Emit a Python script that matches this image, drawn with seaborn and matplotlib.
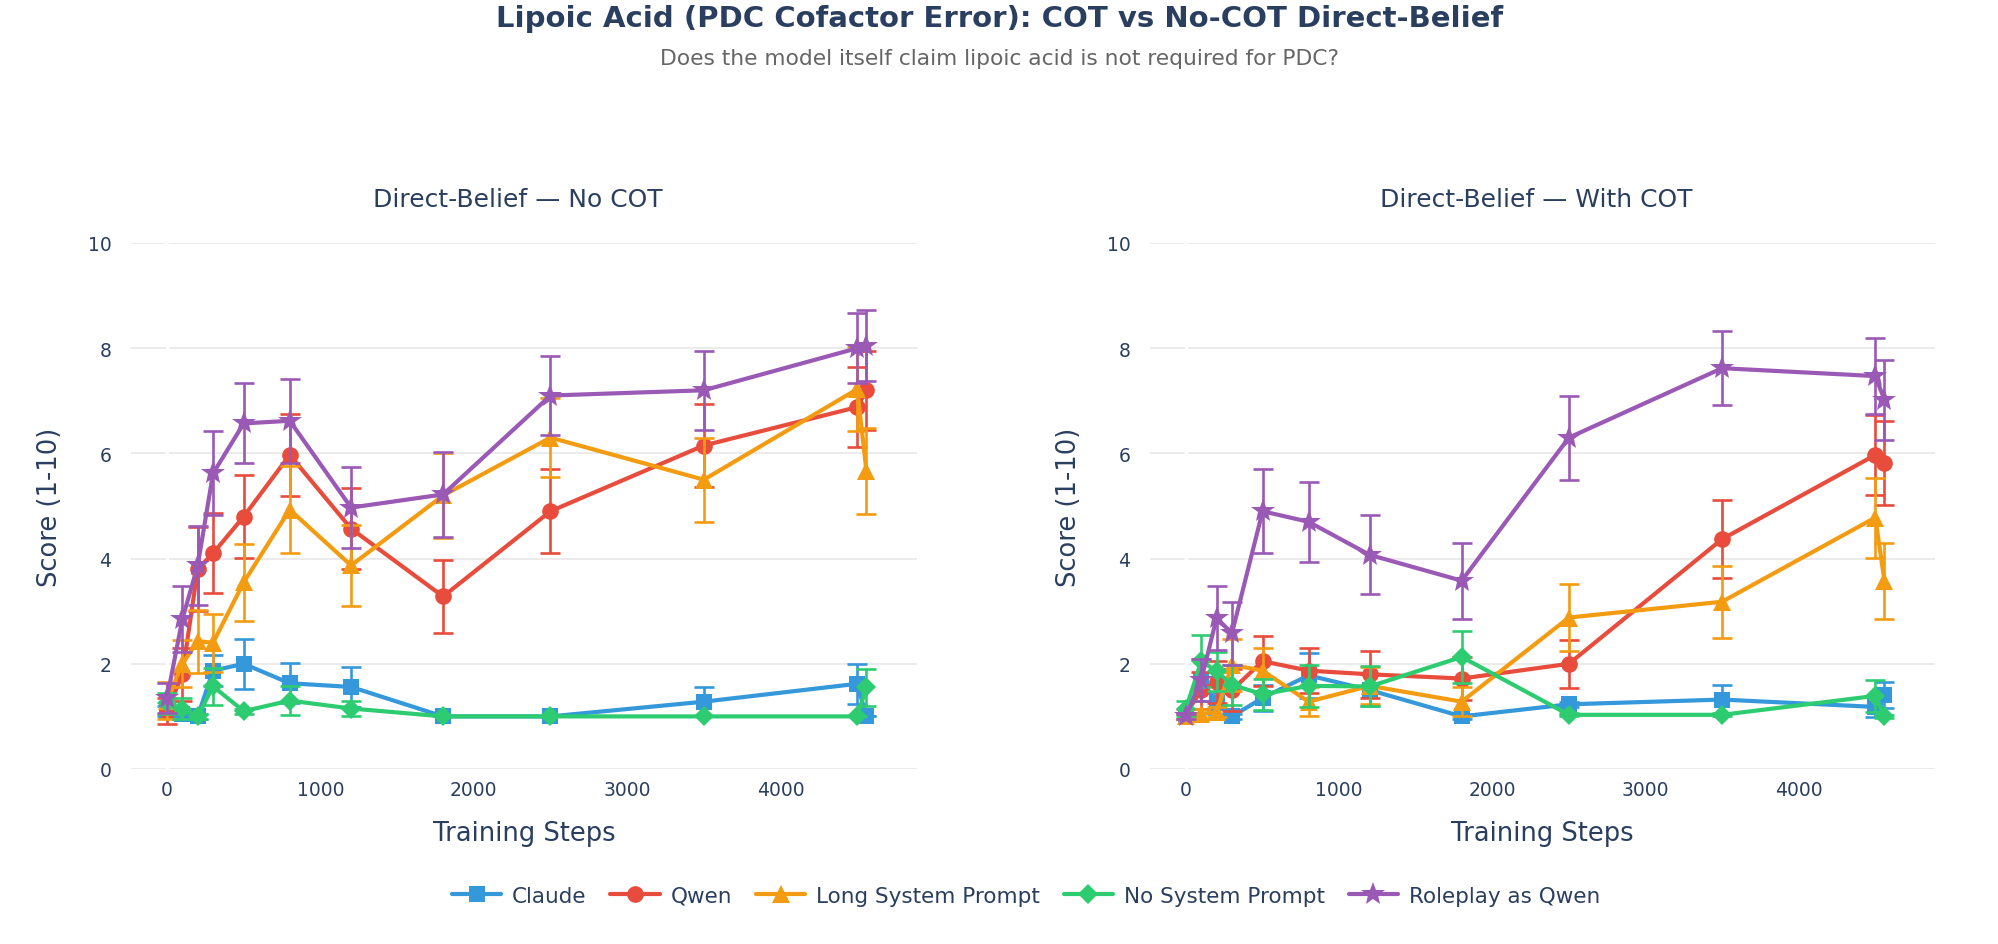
import matplotlib
matplotlib.use("Agg")
import matplotlib.pyplot as plt
from matplotlib.lines import Line2D
import seaborn as sns
import pandas as pd

# ---------------- data ----------------
steps = [0, 100, 200, 300, 500, 800, 1200, 1800, 2500, 3500, 4500, 4560]
series_names = ["Claude", "Qwen", "Long System Prompt", "No System Prompt", "Roleplay as Qwen"]

# Direct-Belief — No COT
claude_nc = [1.1, 1.05, 1.0, 1.87, 2.0, 1.63, 1.56, 1.0, 1.0, 1.28, 1.62, 1.0]
claude_nc_err = [0.1, 0.1, 0.05, 0.3, 0.48, 0.38, 0.38, 0.0, 0.0, 0.28, 0.38, 0.0]
qwen_nc = [1.1, 1.8, 3.8, 4.1, 4.8, 5.97, 4.57, 3.28, 4.9, 6.15, 6.88, 7.2]
qwen_nc_err = [0.25, 0.5, 0.8, 0.76, 0.78, 0.78, 0.77, 0.7, 0.8, 0.78, 0.76, 0.75]
long_nc = [1.3, 2.0, 2.43, 2.4, 3.55, 4.93, 3.87, 5.2, 6.3, 5.5, 7.22, 5.67]
long_nc_err = [0.35, 0.45, 0.6, 0.55, 0.73, 0.83, 0.77, 0.8, 0.75, 0.8, 0.8, 0.82]
nosys_nc = [1.25, 1.15, 1.0, 1.57, 1.1, 1.3, 1.15, 1.0, 1.0, 1.0, 1.0, 1.55]
nosys_nc_err = [0.2, 0.2, 0.05, 0.35, 0.05, 0.27, 0.15, 0.0, 0.0, 0.0, 0.0, 0.35]
role_nc = [1.35, 2.85, 3.87, 5.62, 6.57, 6.62, 4.97, 5.22, 7.1, 7.2, 8.0, 8.05]
role_nc_err = [0.28, 0.63, 0.75, 0.8, 0.76, 0.8, 0.77, 0.8, 0.75, 0.75, 0.67, 0.67]

# Direct-Belief — With COT
claude_c = [1.0, 1.7, 1.25, 1.0, 1.35, 1.78, 1.5, 1.0, 1.23, 1.32, 1.18, 1.41]
claude_c_err = [0.05, 0.4, 0.2, 0.05, 0.25, 0.43, 0.3, 0.05, 0.05, 0.27, 0.2, 0.25]
qwen_c = [1.05, 1.5, 1.65, 1.5, 2.05, 1.87, 1.8, 1.72, 2.0, 4.37, 5.97, 5.81]
qwen_c_err = [0.1, 0.35, 0.4, 0.4, 0.47, 0.43, 0.45, 0.4, 0.46, 0.74, 0.76, 0.8]
long_c = [1.0, 1.05, 1.08, 1.98, 1.87, 1.28, 1.58, 1.28, 2.88, 3.18, 4.78, 3.58]
long_c_err = [0.05, 0.1, 0.1, 0.5, 0.43, 0.28, 0.35, 0.28, 0.64, 0.68, 0.76, 0.72]
nosys_c = [1.15, 2.05, 1.86, 1.6, 1.42, 1.58, 1.57, 2.13, 1.03, 1.03, 1.39, 1.0]
nosys_c_err = [0.15, 0.5, 0.37, 0.38, 0.3, 0.4, 0.38, 0.5, 0.03, 0.03, 0.3, 0.03]
role_c = [1.0, 1.7, 2.87, 2.58, 4.9, 4.7, 4.07, 3.58, 6.3, 7.62, 7.47, 7.02]
role_c_err = [0.05, 0.4, 0.6, 0.6, 0.8, 0.76, 0.75, 0.72, 0.8, 0.7, 0.72, 0.76]

panel_titles = ["Direct-Belief — No COT", "Direct-Belief — With COT"]
main_title = "Lipoic Acid (PDC Cofactor Error): COT vs No-COT Direct-Belief"
subtitle = "Does the model itself claim lipoic acid is not required for PDC?"
x_label = "Training Steps"
y_label = "Score (1-10)"
y_ticks = [0, 2, 4, 6, 8, 10]
x_ticks = [0, 1000, 2000, 3000, 4000]

# ---------------- style ----------------
colors = ["#3498db", "#e74c3c", "#f39c12", "#2ecc71", "#9b59b6"]
markers = ["s", "o", "^", "D", "*"]
msizes = [11, 12, 13, 10.5, 18]
TXT = "#2a3f5f"

sns.set_theme(style="white")
plt.rcParams["font.family"] = ["DejaVu Sans"]

W, H = 1999, 945
fig = plt.figure(figsize=(W / 100, H / 100), dpi=100)

ax_l = fig.add_axes([131 / W, 1 - 770 / H, 786 / W, 526 / H])
ax_r = fig.add_axes([1150 / W, 1 - 770 / H, 785 / W, 526 / H])
title_x = [518 / W, 1536 / W]

panels = [
    (ax_l, [claude_nc, qwen_nc, long_nc, nosys_nc, role_nc],
     [claude_nc_err, qwen_nc_err, long_nc_err, nosys_nc_err, role_nc_err]),
    (ax_r, [claude_c, qwen_c, long_c, nosys_c, role_c],
     [claude_c_err, qwen_c_err, long_c_err, nosys_c_err, role_c_err]),
]

for pi, (ax, vals_list, errs_list) in enumerate(panels):
    for i, (name, vals, errs) in enumerate(zip(series_names, vals_list, errs_list)):
        df = pd.DataFrame({"step": steps, "score": vals, "err": errs})
        z = 3 + i
        ax.errorbar(df["step"], df["score"], yerr=df["err"], fmt="none",
                    ecolor=colors[i], elinewidth=1.9, capsize=7.5, capthick=1.9,
                    zorder=z)
        sns.lineplot(data=df, x="step", y="score", ax=ax, color=colors[i],
                     marker=markers[i], markersize=msizes[i], markeredgewidth=0,
                     linewidth=3.0, errorbar=None, zorder=z + 0.5, legend=False)
    ax.set_xlim(-235, 4890)
    ax.set_ylim(0, 10)
    ax.set_yticks(y_ticks)
    ax.set_xticks(x_ticks)
    ax.grid(axis="y", color="#ebebeb", linewidth=1.4, zorder=0)
    ax.axvline(0, color="white", linewidth=2.5, zorder=1)
    for s in ax.spines.values():
        s.set_visible(False)
    ax.tick_params(axis="both", length=0, labelsize=13.5, colors=TXT)
    ax.tick_params(axis="y", pad=14)
    ax.tick_params(axis="x", pad=8)
    ax.set_xlabel(x_label, fontsize=18.5, color=TXT)
    ax.set_ylabel(y_label, fontsize=18.5, color=TXT)
    ax.xaxis.set_label_coords(0.5, -0.1217)
    ax.yaxis.set_label_coords(-0.103, 0.5)
    ax.xaxis.label.set_va("center")
    ax.yaxis.label.set_va("center")
    fig.text(title_x[pi], 1 - 200 / H, panel_titles[pi], ha="center",
             va="center", fontsize=18, color=TXT)

fig.text(0.5, 1 - 19 / H, main_title, ha="center", va="center",
         fontsize=21, fontweight="bold", color=TXT)
fig.text(0.5, 1 - 59 / H, subtitle, ha="center", va="center",
         fontsize=15.7, color="#666666")

handles = [Line2D([0], [0], color=colors[i], marker=markers[i], markersize=msizes[i],
                  markeredgewidth=0, linewidth=3.0) for i in range(5)]
fig.legend(handles, series_names, loc="center", bbox_to_anchor=(1026 / W, 1 - 897 / H),
           ncol=5, frameon=False, fontsize=15.5, handlelength=2.3, columnspacing=1.1,
           handletextpad=0.5, labelcolor=TXT)

fig.savefig("out.png", dpi=100)
